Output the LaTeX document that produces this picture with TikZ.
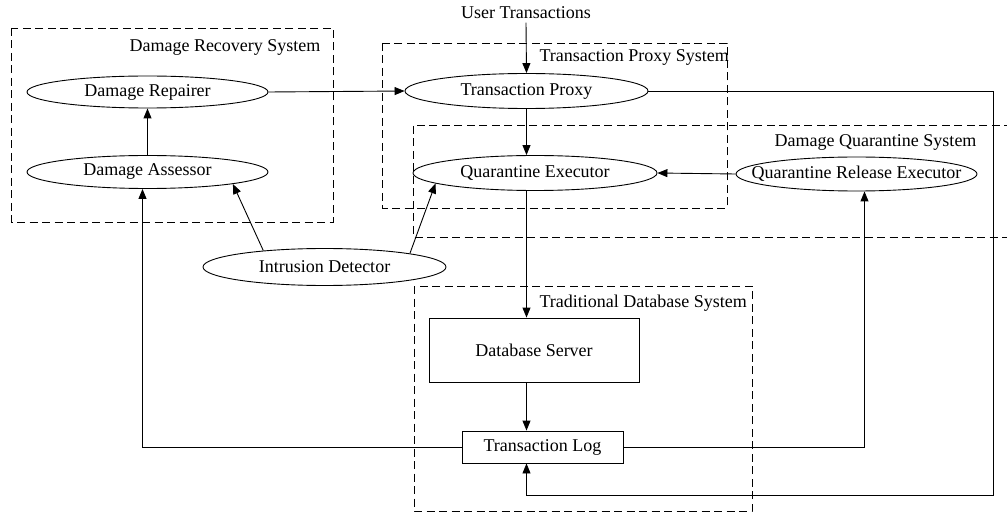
\documentclass[tikz,border=0pt]{standalone}
\usepackage{fontspec}
\setmainfont{Liberation Serif}
\usetikzlibrary{shapes.geometric,arrows.meta}
\begin{document}
\begin{tikzpicture}[x=1pt,y=-1pt,
  every node/.style={font=\fontsize{18}{21}\selectfont},
  sys/.style={draw, dash pattern=on 8pt off 4.5pt, line width=0.9pt},
  proc/.style={draw, ellipse, inner xsep=-40pt, inner ysep=-3pt, line width=0.9pt, minimum width=241pt, minimum height=33pt},
  blk/.style={draw, rectangle, inner sep=0pt, line width=0.9pt},
  link/.style={line width=0.9pt},
  flow/.style={link, -{Triangle[length=10pt,width=8pt]}}]
\useasboundingbox (0,0) rectangle (1007,513);

% subsystem frames
\draw[sys] (11,28) rectangle (333,222);
\node[anchor=east] (lrec) at (324,47) {Damage Recovery System};
\draw[sys] (382,43) rectangle (727,208);
\node[anchor=west] (lprx) at (536,57) {Transaction Proxy System};
\draw[sys] (1012,125) -- (413,125) -- (413,237) -- (1012,237);
\node[anchor=east] (lqua) at (980,142) {Damage Quarantine System};
\draw[sys] (414,286) rectangle (752,511);
\node[anchor=west] (ldb) at (536,303) {Traditional Database System};

% components
\node (ut) at (526,13) {User Transactions};
\node[proc, minimum width=243pt, minimum height=35pt] (tp) at (526.5,91) {Transaction Proxy};
\node[proc, minimum width=244pt, minimum height=35pt] (qe) at (535,173) {Quarantine Executor};
\node[proc, minimum height=34pt] (qre) at (856.5,174) {Quarantine Release Executor};
\node[proc, minimum height=32pt] (dr) at (147.5,92) {Damage Repairer};
\node[proc] (da) at (147.5,172) {Damage Assessor};
\node[proc, minimum width=243pt, minimum height=37pt] (id) at (324.5,267) {Intrusion Detector};
\node[blk, minimum width=210pt, minimum height=64pt] (ds) at (534,350) {Database Server};
\node[blk, minimum width=161pt, minimum height=32pt] (tl) at (542.5,447) {Transaction Log};

\coordinate (rc) at (993,495);

% connectors
\draw[flow] (ut.south) -- (tp.north);
\draw[flow] (dr.east) -- (tp.west);
\draw[flow] (da.north) -- (dr.south);
\draw[flow] (tp.south) -- (qe.north -| tp.south);
\draw[flow] (qre.west) -- (qe.east);
\draw[flow] (id.165) -- (da.-8);
\draw[flow] (id.9) -- (qe.186);
\draw[flow] (qe.south -| tp.south) -- (ds.north -| tp.south);
\draw[flow] (ds.south -| tp.south) -- (tl.north -| tp.south);
\draw[flow] (tl.west) -| ([xshift=-5pt]da.south);
\draw[flow] (tl.east) -| ([xshift=8pt]qre.south);
\draw[flow] (tp.east) -- (tp.east -| rc) -- (rc) -- (rc -| tp.south) -- (tl.south -| tp.south);
\end{tikzpicture}
\end{document}
